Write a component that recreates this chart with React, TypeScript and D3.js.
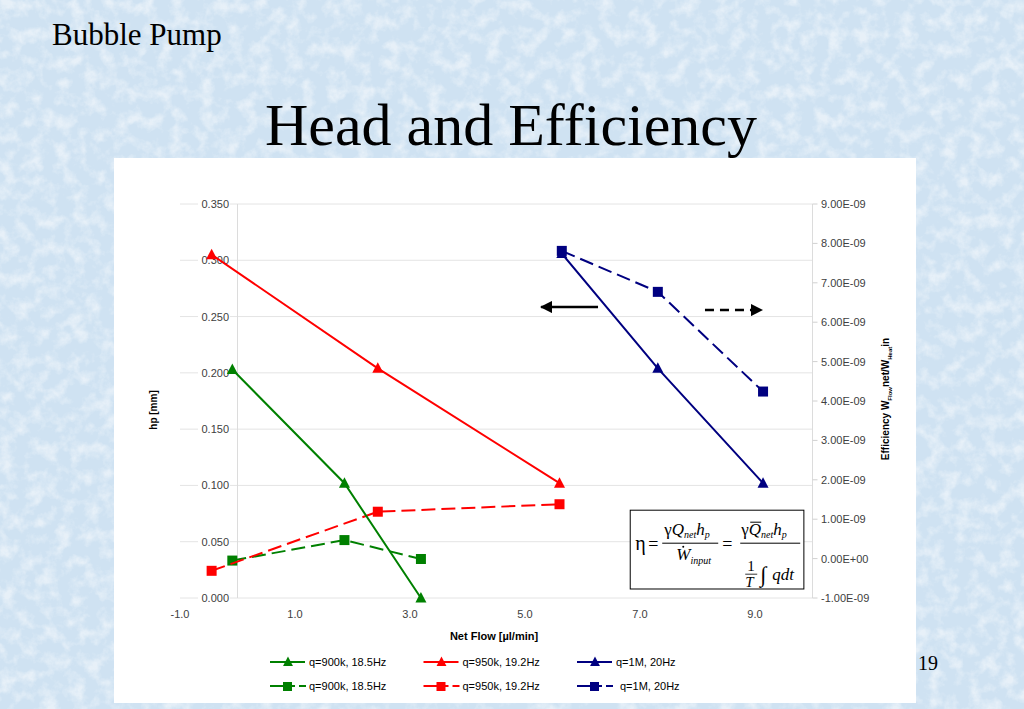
import * as d3 from 'd3'

// net flow [µl/min] for each pump setting
const greenFlow = [-0.09, 1.86, 3.19]
const redFlow = [-0.45, 2.44, 5.6]
const blueFlow = [5.64, 7.31, 9.14]

// head hp [mm] (solid, left axis)
const greenHead = [0.203, 0.102, 0.0]
const redHead = [0.305, 0.204, 0.102]
const blueHead = [0.306, 0.204, 0.102]

// efficiency (dashed, right axis)
const greenEff = [-0.05e-9, 0.47e-9, -0.01e-9]
const redEff = [-0.31e-9, 1.19e-9, 1.38e-9]
const blueEff = [7.81e-9, 6.77e-9, 4.24e-9]

const seriesNames = ['q=900k, 18.5Hz', 'q=950k, 19.2Hz', 'q=1M, 20Hz']
const seriesColors = ['#008000', '#ff0000', '#000080']

const xTicks = [-1, 1, 3, 5, 7, 9]
const headTicks = [0, 0.05, 0.1, 0.15, 0.2, 0.25, 0.3, 0.35]
const effTicks = [-1e-9, 0, 1e-9, 2e-9, 3e-9, 4e-9, 5e-9, 6e-9, 7e-9, 8e-9, 9e-9]

// arrows pointing to the axis each line style belongs to (data units)
const leftArrow = { from: 6.27, to: 5.28, head: 0.2585 }
const rightArrow = { from: 8.13, to: 9.12, head: 0.2558 }

const W = 1024
const H = 709
const sans = '"Liberation Sans", Arial, sans-serif'
const serif = '"Liberation Serif", "Times New Roman", serif'

const x = d3.scaleLinear().domain([-1, 10]).range([180, 812.5])
const y = d3.scaleLinear().domain([0, 0.35]).range([598, 204])
const yEff = d3.scaleLinear().domain([-1e-9, 9e-9]).range([598, 204])

const fmtEff = (v: number) => {
  const [m, e] = v.toExponential(2).toUpperCase().split('E')
  const n = parseInt(e, 10)
  const sign = n < 0 ? '-' : '+'
  return `${m}E${sign}${String(Math.abs(n)).padStart(2, '0')}`
}

const tri = (cx: number, cy: number, s: number) =>
  `M${cx},${cy - s * 0.6}L${cx + s * 0.55},${cy + s * 0.45}L${cx - s * 0.55},${cy + s * 0.45}Z`

export default function App() {
  const flows = [greenFlow, redFlow, blueFlow]
  const heads = [greenHead, redHead, blueHead]
  const effs = [greenEff, redEff, blueEff]

  const headLine = d3.line<[number, number]>().x(d => x(d[0])).y(d => y(d[1]))
  const effLine = d3.line<[number, number]>().x(d => x(d[0])).y(d => yEff(d[1]))

  const bx = x(6.83)
  const by = y(0.078)
  const bw = x(9.85) - bx
  const bh = y(0.008) - by

  return (
    <svg width={W} height={H} style={{ position: 'absolute', left: 0, top: 0 }}>
      <defs>
        <filter id="paper" x="0" y="0" width="100%" height="100%">
          <feTurbulence type="fractalNoise" baseFrequency="0.07" numOctaves={4} seed={5} />
          <feColorMatrix type="matrix" values="0 0 0 0 1  0 0 0 0 1  0 0 0 0 1  2.6 0 0 0 -1.1" />
        </filter>
        <marker id="ah" viewBox="0 0 10 10" refX="9" refY="5" markerWidth="5" markerHeight="5" orient="auto">
          <path d="M0,0L10,5L0,10Z" fill="#000" />
        </marker>
      </defs>

      {/* slide background */}
      <rect width={W} height={H} fill="#cfe2f2" />
      <rect width={W} height={H} filter="url(#paper)" opacity={0.5} />

      <text x={52} y={45} fontFamily={serif} fontSize={31} fill="#000">Bubble Pump</text>

      {/* chart area */}
      <rect x={114} y={158} width={802} height={545} fill="#fff" />

      <text x={511} y={145} textAnchor="middle" fontFamily={serif} fontSize={60} fill="#000">
        Head and Efficiency
      </text>
      <text x={928} y={670} textAnchor="middle" fontFamily={serif} fontSize={20} fill="#000">19</text>

      {/* gridlines */}
      {headTicks.map(t => (
        <line key={t} x1={x(-1)} x2={x(10)} y1={y(t)} y2={y(t)} stroke="#e4e4e4" strokeWidth={1} />
      ))}
      <line x1={x(0)} x2={x(0)} y1={y(0.35)} y2={y(0)} stroke="#dcdcdc" />
      <line x1={x(10)} x2={x(10)} y1={y(0.35)} y2={y(0)} stroke="#dcdcdc" />
      {effTicks.map(t => (
        <line key={t} x1={x(10)} x2={x(10) + 5} y1={yEff(t)} y2={yEff(t)} stroke="#d0d0d0" />
      ))}

      {/* left axis labels */}
      {headTicks.map(t => (
        <g key={t}>
          <rect x={198} y={y(t) - 6} width={32} height={12} fill="#fff" />
          <text x={229} y={y(t) + 4} textAnchor="end" fontFamily={sans} fontSize={11} fill="#404040">
            {t.toFixed(3)}
          </text>
        </g>
      ))}
      {/* right axis labels */}
      {effTicks.map(t => (
        <text key={t} x={821} y={yEff(t) + 4} fontFamily={sans} fontSize={11} fill="#404040">
          {fmtEff(t)}
        </text>
      ))}
      {/* x axis labels */}
      {xTicks.map(t => (
        <text key={t} x={x(t)} y={618} textAnchor="middle" fontFamily={sans} fontSize={11} fill="#404040">
          {t.toFixed(1)}
        </text>
      ))}

      {/* axis titles */}
      <text x={494} y={640} textAnchor="middle" fontFamily={sans} fontSize={11} fontWeight="bold" fill="#000">
        Net Flow [µl/min]
      </text>
      <text transform="translate(157,410) rotate(-90)" textAnchor="middle" fontFamily={sans} fontSize={10}
        fontWeight="bold" fill="#000">hp [mm]</text>
      <text transform="translate(889,399) rotate(-90)" textAnchor="middle" fontFamily={sans} fontSize={10}
        fontWeight="bold" fill="#000">
        Efficiency W<tspan fontSize={6} dy={3}>Flow</tspan><tspan dy={-3}>net/W</tspan>
        <tspan fontSize={6} dy={3}>Heat</tspan><tspan dy={-3}>in</tspan>
      </text>

      {/* efficiency lines (dashed, right axis) */}
      {effs.map((e, i) => {
        const pts = flows[i].map((f, j) => [f, e[j]] as [number, number])
        return (
          <g key={'e' + i}>
            <path d={effLine(pts) || ''} fill="none" stroke={seriesColors[i]} strokeWidth={2}
              strokeDasharray="14,6" />
            {pts.map((p, j) => (
              <rect key={j} x={x(p[0]) - 5} y={yEff(p[1]) - 5} width={10} height={10} fill={seriesColors[i]} />
            ))}
          </g>
        )
      })}

      {/* head lines (solid, left axis) */}
      {heads.map((h, i) => {
        const pts = flows[i].map((f, j) => [f, h[j]] as [number, number])
        return (
          <g key={'h' + i}>
            <path d={headLine(pts) || ''} fill="none" stroke={seriesColors[i]} strokeWidth={2} />
            {pts.map((p, j) => (
              <path key={j} d={tri(x(p[0]), y(p[1]), 10)} fill={seriesColors[i]} />
            ))}
          </g>
        )
      })}

      {/* axis arrows */}
      <line x1={x(leftArrow.from)} x2={x(leftArrow.to)} y1={y(leftArrow.head)} y2={y(leftArrow.head)}
        stroke="#000" strokeWidth={2.5} markerEnd="url(#ah)" />
      <line x1={x(rightArrow.from)} x2={x(rightArrow.to)} y1={y(rightArrow.head)} y2={y(rightArrow.head)}
        stroke="#000" strokeWidth={2.5} strokeDasharray="9,6" markerEnd="url(#ah)" />

      {/* formula box */}
      <g transform={`translate(${bx},${by})`} fontFamily={serif} fill="#000">
        <rect width={bw} height={bh} fill="#fff" stroke="#000" strokeWidth={1} />
        <text x={5} y={40} fontSize={20}>η</text>
        <text x={18} y={40} fontSize={18}>=</text>
        <text x={34} y={25} fontSize={17}>
          γ<tspan fontStyle="italic">Q</tspan><tspan fontSize={10} fontStyle="italic" dy={3}>net</tspan>
          <tspan fontStyle="italic" dy={-3}>h</tspan><tspan fontSize={10} fontStyle="italic" dy={3}>p</tspan>
        </text>
        <line x1={32} x2={88} y1={33} y2={33} stroke="#000" strokeWidth={1} />
        <text x={46} y={50} fontSize={17} fontStyle="italic">
          W<tspan fontSize={10} dy={4}>input</tspan>
        </text>
        <circle cx={53} cy={36.5} r={1} fill="#000" />
        <text x={92} y={40} fontSize={18}>=</text>
        <text x={111} y={25} fontSize={17}>
          γ<tspan fontStyle="italic">Q</tspan><tspan fontSize={10} fontStyle="italic" dy={3}>net</tspan>
          <tspan fontStyle="italic" dy={-3}>h</tspan><tspan fontSize={10} fontStyle="italic" dy={3}>p</tspan>
        </text>
        <line x1={120} x2={131} y1={12} y2={12} stroke="#000" strokeWidth={1} />
        <line x1={110} x2={170} y1={33} y2={33} stroke="#000" strokeWidth={1} />
        <text x={117} y={61} fontSize={15}>1</text>
        <line x1={115} x2={127} y1={64} y2={64} stroke="#000" strokeWidth={0.8} />
        <text x={115} y={77} fontSize={15} fontStyle="italic">T</text>
        <text x={130} y={72} fontSize={22}>∫</text>
        <text x={142} y={70} fontSize={17} fontStyle="italic">qdt</text>
      </g>

      {/* legend */}
      {seriesNames.map((name, i) => {
        const lx = 270 + i * 153.5
        const c = seriesColors[i]
        return (
          <g key={'l' + i} fontFamily={sans} fontSize={11} fill="#000">
            <line x1={lx} x2={lx + 35} y1={662} y2={662} stroke={c} strokeWidth={2} />
            <path d={tri(lx + 18, 662, 9)} fill={c} />
            <text x={lx + 39} y={666}>{name}</text>
            <line x1={lx} x2={lx + 25} y1={686} y2={686} stroke={c} strokeWidth={2} />
            <line x1={lx + 29} x2={lx + 36} y1={686} y2={686} stroke={c} strokeWidth={2} />
            <rect x={lx + 13} y={682} width={9} height={9} fill={c} />
            <text x={lx + 39 + (i === 2 ? 4 : 0)} y={690}>{name}</text>
          </g>
        )
      })}
    </svg>
  )
}
